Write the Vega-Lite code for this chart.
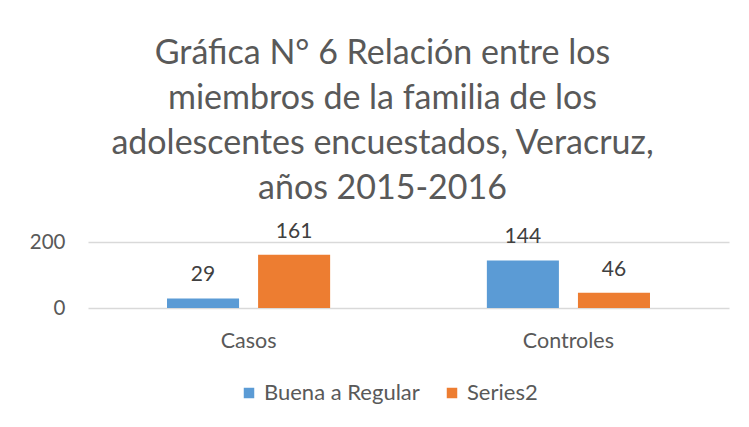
{
  "$schema": "https://vega.github.io/schema/vega-lite/v6.json",
  "autosize": {"type": "none"},
  "width": 641,
  "height": 66,
  "padding": {"left": 88, "top": 242, "right": 20, "bottom": 119},
  "background": "white",
  "title": {
    "text": ["Gráfica N° 6 Relación entre los", "miembros de la familia de los", "adolescentes encuestados, Veracruz,", "años 2015-2016"],
    "font": "Lato",
    "fontSize": 34,
    "fontWeight": "normal",
    "color": "#595959",
    "lineHeight": 45,
    "anchor": "middle",
    "dx": -26,
    "offset": 15
  },
  "data": {
    "values": [
      {"grupo": "Casos", "serie": "Buena a Regular", "valor": 29},
      {"grupo": "Casos", "serie": "Series2", "valor": 161},
      {"grupo": "Controles", "serie": "Buena a Regular", "valor": 144},
      {"grupo": "Controles", "serie": "Series2", "valor": 46}
    ]
  },
  "encoding": {
    "x": {
      "field": "grupo", "type": "nominal", "sort": null,
      "scale": {"paddingInner": 0.49, "paddingOuter": 0.247},
      "axis": {"title": null, "labelAngle": 0, "domain": false, "ticks": false, "labelPadding": 22, "labelFont": "Lato", "labelFontSize": 21.5, "labelColor": "#595959"}
    },
    "xOffset": {"field": "serie", "type": "nominal", "sort": null, "scale": {"paddingInner": 0.209, "paddingOuter": 0}},
    "y": {
      "field": "valor", "type": "quantitative",
      "scale": {"domain": [0, 200], "nice": false},
      "axis": {"title": null, "values": [0, 200], "domain": false, "ticks": false, "labelPadding": 23, "labelFont": "Lato", "labelFontSize": 20.5, "labelColor": "#595959", "gridColor": "#d9d9d9", "gridWidth": 1.3}
    }
  },
  "layer": [
    {
      "mark": {"type": "bar"},
      "encoding": {
        "color": {
          "field": "serie", "type": "nominal", "sort": null,
          "scale": {"domain": ["Buena a Regular", "Series2"], "range": ["#5B9BD5", "#ED7D31"]},
          "legend": {
            "title": null, "orient": "none", "direction": "horizontal",
            "legendX": 150, "legendY": 140,
            "symbolType": "square", "symbolSize": 110, "symbolStrokeWidth": 0,
            "labelFont": "Lato", "labelFontSize": 22, "labelColor": "#595959",
            "columnPadding": 21, "symbolOffset": 0, "labelOffset": 4
          }
        }
      }
    },
    {
      "mark": {"type": "text", "font": "Lato", "fontSize": 21, "color": "#404040", "baseline": "alphabetic", "dy": -17},
      "encoding": {
        "text": {"field": "valor", "type": "quantitative"}
      }
    }
  ],
  "config": {"view": {"stroke": null}}
}
